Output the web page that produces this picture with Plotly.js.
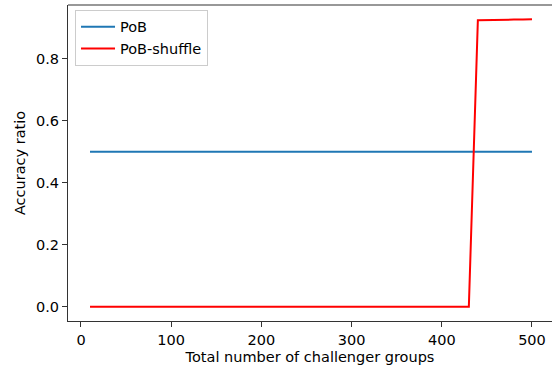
<!DOCTYPE html>
<html>
<head>
<meta charset="utf-8">
<script src="https://cdn.plot.ly/plotly-3.0.1.min.js"></script>
<style>html,body{margin:0;padding:0;background:#fff;}#chart{width:552px;height:372px;}</style>
</head>
<body>
<div id="chart"></div>
<script>
const groups = [10,20,30,40,50,60,70,80,90,100,110,120,130,140,150,160,170,180,190,200,
  210,220,230,240,250,260,270,280,290,300,310,320,330,340,350,360,370,380,390,400,
  410,420,430,440,450,460,470,480,490,500];
const pob = [0.5,0.5,0.5,0.5,0.5,0.5,0.5,0.5,0.5,0.5,0.5,0.5,0.5,0.5,0.5,0.5,0.5,0.5,0.5,0.5,
  0.5,0.5,0.5,0.5,0.5,0.5,0.5,0.5,0.5,0.5,0.5,0.5,0.5,0.5,0.5,0.5,0.5,0.5,0.5,0.5,
  0.5,0.5,0.5,0.5,0.5,0.5,0.5,0.5,0.5,0.5];
const pobShuffle = [0,0,0,0,0,0,0,0,0,0,0,0,0,0,0,0,0,0,0,0,
  0,0,0,0,0,0,0,0,0,0,0,0,0,0,0,0,0,0,0,0,
  0,0,0,0.925,0.926,0.926,0.927,0.927,0.927,0.928];
const xTicks = [0,100,200,300,400,500];
const yTicks = [0.0,0.2,0.4,0.6,0.8];
const yTickText = ["0.0","0.2","0.4","0.6","0.8"];

const font = {family: "DejaVu Sans", size: 14.5, color: "#000"};
const data = [
  {x: groups, y: pob, mode: "lines", name: "PoB", line: {color: "#1f77b4", width: 2}},
  {x: groups, y: pobShuffle, mode: "lines", name: "PoB-shuffle", line: {color: "#ff0000", width: 2}}
];
const layout = {
  width: 552, height: 372,
  margin: {l: 68, r: 0, t: 5, b: 51},
  paper_bgcolor: "#fff", plot_bgcolor: "#fff",
  font: font,
  showlegend: true,
  legend: {x: 0.0145, y: 0.985, xanchor: "left", yanchor: "top",
    bgcolor: "rgba(255,255,255,0.8)", bordercolor: "#cccccc", borderwidth: 1,
    itemwidth: 34, font: font},
  xaxis: {range: [-14.4, 522.2], tickvals: xTicks, ticks: "outside", ticklen: 5,
    tickwidth: 1, tickcolor: "#333", showline: true, linecolor: "#333", linewidth: 1.1,
    showgrid: false, zeroline: false, tickfont: font,
    title: {text: "Total number of challenger groups", font: font, standoff: 5}},
  yaxis: {range: [-0.0464, 0.974], tickvals: yTicks, ticktext: yTickText, ticks: "outside",
    ticklen: 5, tickwidth: 1, tickcolor: "#333", showline: true, linecolor: "#333",
    linewidth: 1.1, showgrid: false, zeroline: false, tickfont: font,
    title: {text: "Accuracy ratio", font: font, standoff: 6}},
  shapes: [{type: "line", xref: "paper", yref: "paper", x0: 0, x1: 1, y0: 1, y1: 1,
    line: {color: "#333", width: 1.1}}]
};
Plotly.newPlot("chart", data, layout, {displayModeBar: false, staticPlot: true});
</script>
</body>
</html>
